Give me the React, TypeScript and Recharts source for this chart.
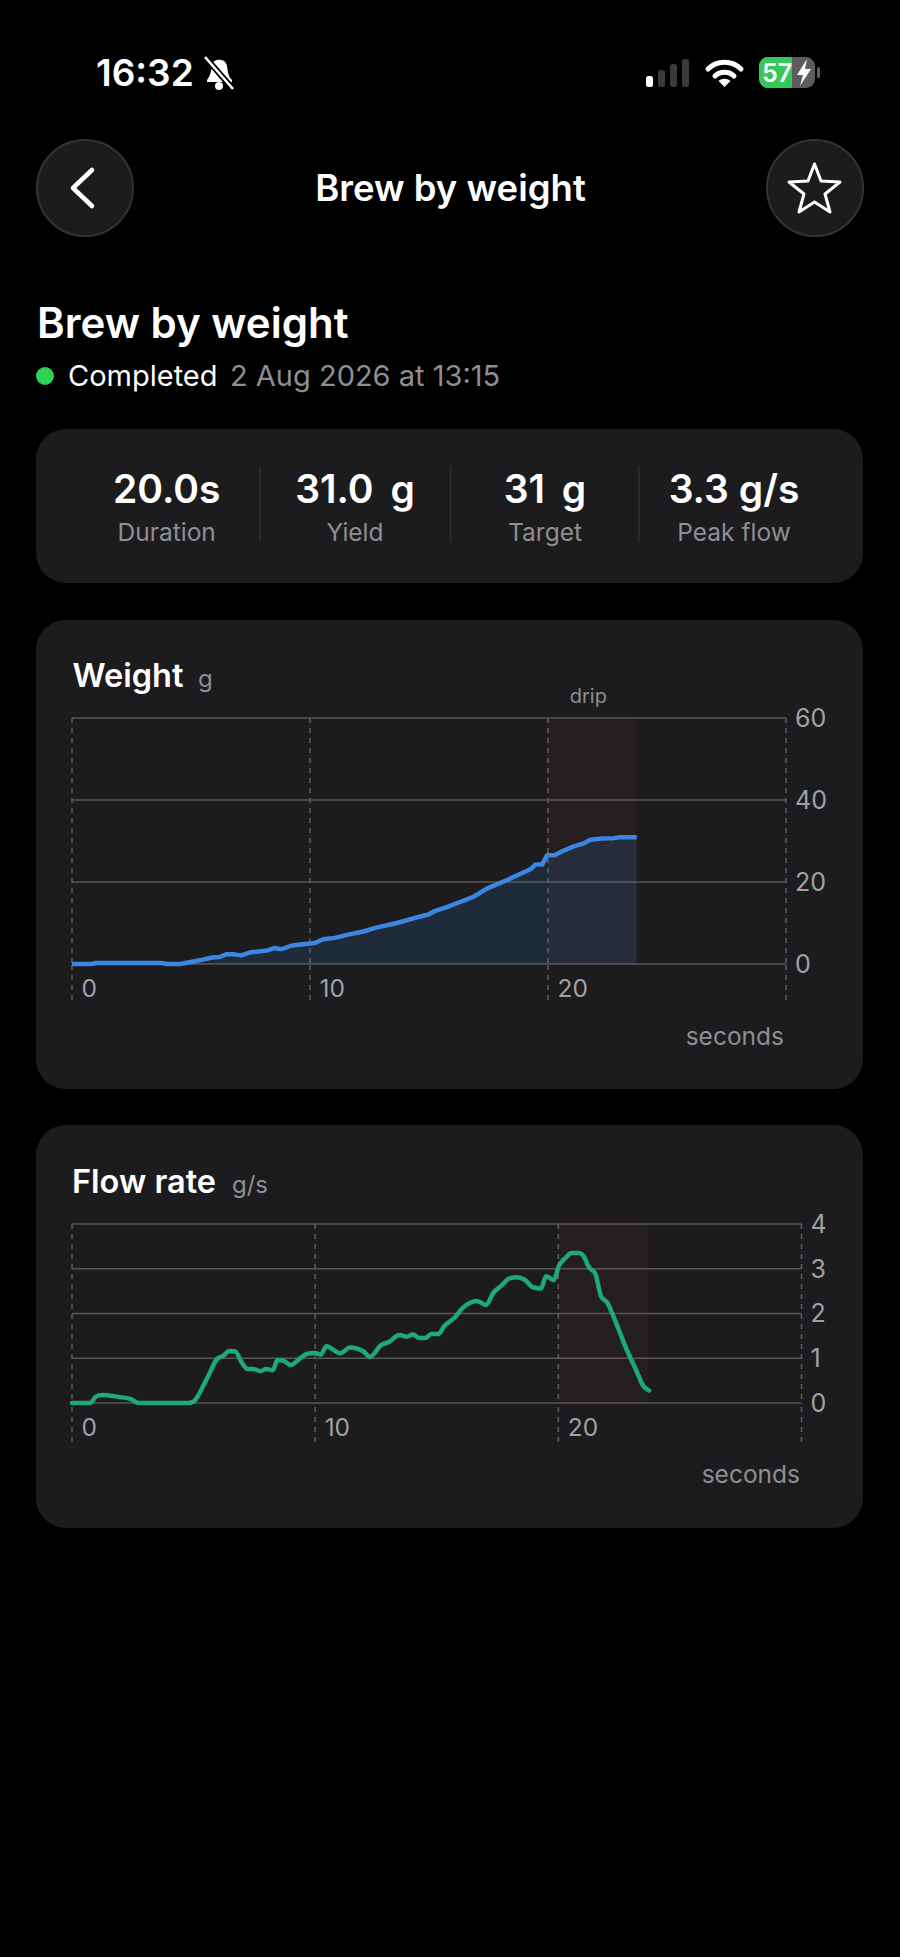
import { AreaChart, Area, LineChart, Line, XAxis, YAxis, CartesianGrid, ReferenceArea } from 'recharts';

const FONT = 'Inter, "Noto Sans", sans-serif';
const GREY = '#8e8e93';
const CARD = '#1c1c1e';

// seconds / grams
const weightSeconds = [0, 0.83, 1.0, 3.76, 4.0, 4.55, 5.0, 5.45, 5.9, 6.2, 6.5, 6.8, 7.1, 7.5, 8.2, 8.5, 8.8, 9.2, 9.58, 10.21, 10.56, 11.05, 11.54, 12.24, 12.74, 13.65, 14.42, 14.98, 15.26, 15.75, 16.87, 17.43, 18.28, 19.26, 19.47, 19.75, 19.96, 20.27, 20.6, 21.08, 21.5, 21.78, 22.27, 22.76, 23.04, 23.73];
const weightGrams = [0, 0, 0.25, 0.25, 0, 0, 0.5, 1.0, 1.6, 1.7, 2.4, 2.35, 2.1, 2.85, 3.3, 3.9, 3.6, 4.45, 4.73, 5.14, 6.04, 6.37, 7.1, 7.92, 8.8, 10.0, 11.27, 12.08, 12.98, 13.88, 16.4, 18.37, 20.5, 23.1, 24.24, 24.24, 26.5, 26.5, 27.5, 28.7, 29.4, 30.3, 30.6, 30.7, 30.94, 30.94];

const flowSeconds = [0, 0.75, 1.0, 1.23, 1.92, 2.4, 2.74, 4.8, 5.04, 5.34, 5.62, 5.96, 6.23, 6.47, 6.71, 6.99, 7.22, 7.47, 7.74, 7.99, 8.26, 8.45, 8.67, 9.0, 9.38, 9.68, 10, 10.23, 10.46, 11.03, 11.44, 11.99, 12.26, 12.72, 13.02, 13.46, 13.77, 14.02, 14.29, 14.57, 14.76, 15.06, 15.31, 15.72, 16.06, 16.65, 17.02, 17.34, 17.61, 18.02, 18.3, 18.6, 18.98, 19.29, 19.49, 19.81, 20.02, 20.29, 20.56, 20.84, 21.04, 21.25, 21.52, 21.76, 22.0, 22.41, 22.76, 23.17, 23.51, 23.73];
const flowRate = [0, 0, 0.15, 0.18, 0.135, 0.09, 0, 0, 0.05, 0.32, 0.62, 0.98, 1.06, 1.16, 1.15, 0.9, 0.76, 0.76, 0.71, 0.76, 0.73, 0.96, 0.95, 0.85, 1.0, 1.1, 1.12, 1.08, 1.27, 1.11, 1.24, 1.15, 1.03, 1.3, 1.36, 1.52, 1.48, 1.53, 1.45, 1.46, 1.54, 1.54, 1.72, 1.9, 2.12, 2.28, 2.19, 2.47, 2.6, 2.79, 2.81, 2.76, 2.58, 2.56, 2.83, 2.75, 3.06, 3.24, 3.35, 3.35, 3.28, 3.04, 2.89, 2.38, 2.25, 1.74, 1.26, 0.77, 0.37, 0.28];

const secondTicks = [0, 10, 20, 30];
const weightTicks = [0, 20, 40, 60];
const flowTicks = [0, 1, 2, 3, 4];
const dripStart = 20;
const dripEnd = 23.73;

const stats = [
  { value: '20.0s', label: 'Duration' },
  { value: '31.0 g', label: 'Yield' },
  { value: '31 g', label: 'Target' },
  { value: '3.3 g/s', label: 'Peak flow' },
];
const statCenters = [166.7, 355, 545, 734];

const weightData = weightSeconds.map((t, i) => ({ t, v: weightGrams[i] }));
const flowData = flowSeconds.map((t, i) => ({ t, v: flowRate[i] }));

// x labels sit to the right of the dashed line, 30 has none
function SecondTick(props: any) {
  const { x, y, payload } = props;
  if (payload.value === 30) return <g />;
  return (
    <text x={x + 9.5} y={y + props.lift} fill="#a0a0a5" fontSize={24.5} fontFamily={FONT}>
      {payload.value}
    </text>
  );
}

function DripLabel(props: any) {
  const { viewBox } = props;
  return (
    <text x={viewBox.x + viewBox.width / 2 - 4} y={viewBox.y - 15} fill={GREY} fontSize={20} textAnchor="middle" fontFamily={FONT}>
      drip
    </text>
  );
}

const gridLine = '#565658';
const dashLine = '#5e5e60';
const yTick = { fill: '#a0a0a5', fontSize: 25, fontFamily: FONT };

function WeightChart() {
  return (
    <AreaChart width={800} height={370} data={weightData} margin={{ top: 58, left: 12, right: 0, bottom: 0 }}>
      <ReferenceArea x1={dripStart} x2={dripEnd} fill="#ff5a32" fillOpacity={0.035} stroke="none" label={<DripLabel />} />
      <CartesianGrid vertical={false} stroke={gridLine} strokeWidth={1.5} />
      <CartesianGrid horizontal={false} stroke={dashLine} strokeWidth={1.5} strokeDasharray="5 5" />
      <XAxis
        type="number"
        dataKey="t"
        domain={[0, 30]}
        ticks={secondTicks}
        height={66}
        tickSize={36}
        tickMargin={0}
        axisLine={false}
        tickLine={{ stroke: dashLine, strokeWidth: 1.5, strokeDasharray: '5 5' }}
        tick={<SecondTick lift={-3} />}
        interval={0}
      />
      <YAxis orientation="right" domain={[0, 60]} ticks={weightTicks} width={74} axisLine={false} tickLine={false} tick={yTick} tickMargin={3} interval={0} />
      <Area
        type="linear"
        dataKey="v"
        stroke="#3a86e2"
        strokeWidth={4.5}
        strokeLinejoin="round"
        fill="#3a86e2"
        fillOpacity={0.14}
        dot={false}
        isAnimationActive={false}
      />
    </AreaChart>
  );
}

function FlowChart() {
  return (
    <LineChart width={800} height={257} data={flowData} margin={{ top: 28, left: 12, right: 0, bottom: 0 }}>
      <ReferenceArea x1={dripStart} x2={dripEnd} fill="#ff5a32" fillOpacity={0.035} stroke="none" />
      <CartesianGrid vertical={false} stroke={gridLine} strokeWidth={1.5} />
      <CartesianGrid horizontal={false} stroke={dashLine} strokeWidth={1.5} strokeDasharray="5 5" />
      <XAxis
        type="number"
        dataKey="t"
        domain={[0, 30]}
        ticks={secondTicks}
        height={50}
        tickSize={39}
        tickMargin={0}
        axisLine={false}
        tickLine={{ stroke: dashLine, strokeWidth: 1.5, strokeDasharray: '5 5' }}
        tick={<SecondTick lift={-6} />}
        interval={0}
      />
      <YAxis orientation="right" domain={[0, 4]} ticks={flowTicks} width={58.5} axisLine={false} tickLine={false} tick={yTick} tickMargin={3} interval={0} />
      <Line type="monotone" dataKey="v" stroke="#1fa87a" strokeWidth={4.5} strokeLinecap="round" dot={false} isAnimationActive={false} />
    </LineChart>
  );
}

// everything around the charts: status bar, header, cards
function Chrome() {
  return (
    <svg width={900} height={1957} style={{ position: 'absolute', left: 0, top: 0 }} fontFamily={FONT}>
      <text x={96} y={86} fill="#fff" fontSize={37} fontWeight={600}>16:32</text>
      <path d="M207 80 C211 75 211 70 212 65 C213 58 226 58 227 66 C228 72 228 76 232 80 V82 H207 Z" fill="#fff" />
      <circle cx={219} cy={86} r={4} fill="#fff" />
      <path d="M205 57 L233 89" stroke="#000" strokeWidth={6} />
      <path d="M205 57 L233 89" stroke="#fff" strokeWidth={2.5} />

      <rect x={646} y={76} width={7} height={11} rx={2.5} fill="#fff" />
      <rect x={658} y={70} width={7} height={17} rx={2.5} fill="#3a3a3c" />
      <rect x={670} y={64} width={7} height={23} rx={2.5} fill="#3a3a3c" />
      <rect x={682} y={59} width={7} height={28} rx={2.5} fill="#3a3a3c" />

      <path d="M708 69 C717 60 732 60 741 69" stroke="#fff" strokeWidth={5} fill="none" strokeLinecap="round" />
      <path d="M715 76 C720 71 729 71 734 76" stroke="#fff" strokeWidth={5} fill="none" strokeLinecap="round" />
      <path d="M718.5 81 L724.5 87 L730.5 81 C727 78 722 78 718.5 81 Z" fill="#fff" />

      <rect x={759} y={57} width={56} height={31} rx={9} fill="#5c5c5e" />
      <path d="M768 57 H792 V88 H768 A9 9 0 0 1 759 79 V66 A9 9 0 0 1 768 57 Z" fill="#34c759" />
      <rect x={817} y={67} width={3} height={11} rx={1.5} fill="#5c5c5e" />
      <text x={762} y={82} fill="#fff" fontSize={25} fontWeight={600}>57</text>
      <path d="M807 59 L797 75 H803 L800 86 L811 69 H805 Z" fill="#fff" />

      <circle cx={85} cy={188} r={48} fill={CARD} stroke="#333335" strokeWidth={2} />
      <path d="M92 170 L73 188 L92 206" stroke="#fff" strokeWidth={4.5} fill="none" strokeLinecap="round" strokeLinejoin="round" />
      <circle cx={815} cy={188} r={48} fill={CARD} stroke="#333335" strokeWidth={2} />
      <path d="M814.500 164 L821 181 L840 182 L825 194 L830 212 L814.500 202 L799 212 L804 194 L789 182 L808 181 Z" stroke="#fff" strokeWidth={3} fill="none" strokeLinejoin="round" />
      <text x={450.500} y={201} fill="#fff" fontSize={36.500} fontWeight={600} textAnchor="middle">Brew by weight</text>

      <text x={37} y={338} fill="#fff" fontSize={42} fontWeight={600}>Brew by weight</text>
      <circle cx={45} cy={376} r={9} fill="#30d158" />
      <text x={68} y={386} fill="#fff" fontSize={29} fontWeight={400}>Completed</text>
      <text x={230} y={386} fill={GREY} fontSize={29}>2 Aug 2026 at 13:15</text>

      <rect x={36} y={429} width={827} height={154} rx={30} fill={CARD} />
      {stats.map((s, i) => (
        <g key={s.label}>
          <text x={statCenters[i]} y={503} fill="#fff" fontSize={39} fontWeight={600} textAnchor="middle" wordSpacing={i === 3 ? 0 : 7}>{s.value}</text>
          <text x={statCenters[i]} y={541} fill={GREY} fontSize={24.500} textAnchor="middle">{s.label}</text>
        </g>
      ))}
      {[260, 450.500, 639].map((x) => (
        <line key={x} x1={x} x2={x} y1={466} y2={542} stroke="#2f2f31" strokeWidth={1.5} />
      ))}

      <rect x={36} y={620} width={827} height={469} rx={30} fill={CARD} />
      <text x={72.500} y={687} fill="#fff" fontSize={32.500} fontWeight={600}>Weight</text>
      <text x={198} y={687} fill={GREY} fontSize={24}>g</text>
      <text x={784} y={1045} fill={GREY} fontSize={24.500} textAnchor="end">seconds</text>

      <rect x={36} y={1125} width={827} height={403} rx={30} fill={CARD} />
      <text x={72} y={1193} fill="#fff" fontSize={32.500} fontWeight={600}>Flow rate</text>
      <text x={232} y={1193} fill={GREY} fontSize={24}>g/s</text>
      <text x={800} y={1483} fill={GREY} fontSize={24.500} textAnchor="end">seconds</text>
    </svg>
  );
}

export default function App() {
  return (
    <div style={{ position: 'absolute', left: 0, top: 0, width: 900, height: 1957, background: '#000', overflow: 'hidden' }}>
      <style>{'body{margin:0;background:#000}'}</style>
      <Chrome />
      <div style={{ position: 'absolute', left: 60, top: 660 }}>
        <WeightChart />
      </div>
      <div style={{ position: 'absolute', left: 60, top: 1196 }}>
        <FlowChart />
      </div>
    </div>
  );
}
